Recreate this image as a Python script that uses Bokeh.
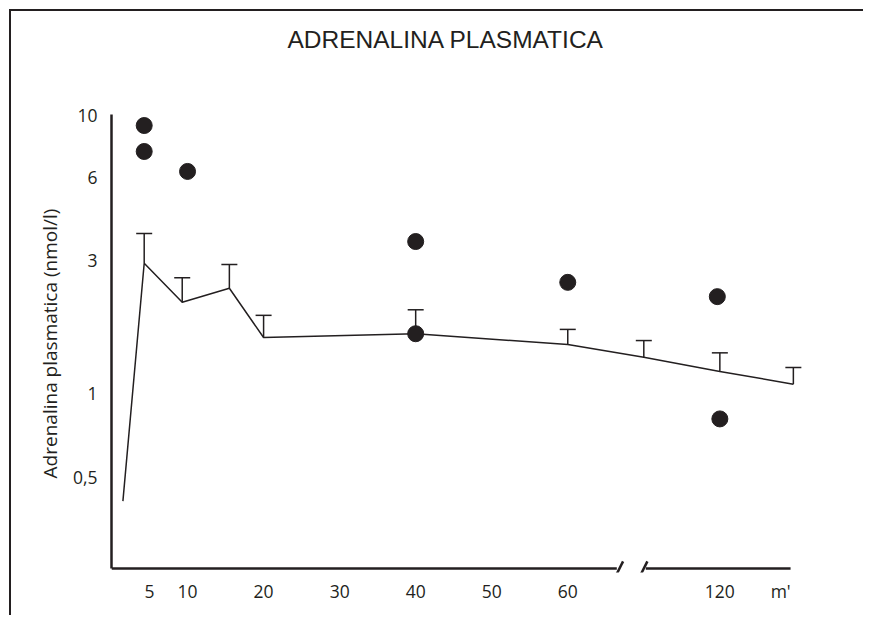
from bokeh.plotting import figure
from bokeh.models import Range1d, FixedTicker, Whisker, ColumnDataSource, TeeHead, Title
from bokeh.embed import file_html
from bokeh.resources import INLINE

# ---------------- data ----------------
title_text = "ADRENALINA PLASMATICA"
y_label = "Adrenalina plasmatica (nmol/l)"

# mean curve (minutes, nmol/l) and upper error bar (mean + SE)
line_minutes = [1.5, 4.3, 9.3, 15.5, 20, 40, 60, 90, 120, 149]
line_values = [0.41, 2.94, 2.13, 2.39, 1.59, 1.64, 1.50, 1.35, 1.20, 1.08]
err_minutes = [4.3, 9.3, 15.5, 20, 40, 60, 90, 120, 149]
err_upper = [3.76, 2.61, 2.91, 1.91, 2.00, 1.70, 1.55, 1.40, 1.24]
err_mean = [2.94, 2.13, 2.39, 1.59, 1.64, 1.50, 1.35, 1.20, 1.08]

# individual values (dots)
dot_minutes = [4.3, 4.3, 10, 40, 40, 60, 119, 120]
dot_values = [9.2, 7.42, 6.29, 3.52, 1.64, 2.51, 2.23, 0.81]

x_tick_minutes = [5, 10, 20, 30, 40, 50, 60, 120]
x_tick_labels = ["5", "10", "20", "30", "40", "50", "60", "120"]
unit_label = "m'"
y_ticks = [0.5, 1, 3, 6, 10]
y_tick_labels = ["0,5", "1", "3", "6", "10"]

# ---------------- layout / style ----------------
INK = "#231f20"
FONT = "Open Sans"
TITLE_FONT = "Liberation Sans"
BREAK_MIN = 60          # scale is compressed 3x after the axis break
UNIT_POS = 88
BREAK_START, BREAK_END = 66.45, 70.26
SLASH_POS = [66.8, 70.0]
AXIS_END = 89.3
Y_FLOOR = 0.2347
Y_TOP = 10.08


def axis_pos(t):
    return t if t <= BREAK_MIN else BREAK_MIN + (t - BREAK_MIN) / 3


p = figure(width=854, height=606, output_backend="svg", toolbar_location=None,
           y_axis_type="log", x_range=Range1d(0, 91), y_range=Range1d(0.227, Y_TOP),
           min_border_left=100, min_border_right=62, min_border_top=103, min_border_bottom=45)
p.outline_line_color = None
p.grid.visible = False
p.styles = {"margin-top": "9px", "margin-left": "9px",
            "border-top": "2px solid " + INK, "border-left": "2px solid " + INK}

# spacer panel next to the frame, then the title above it
p.add_layout(Title(text=" ", text_font=TITLE_FONT, text_font_size="10px", standoff=49), "above")
p.add_layout(Title(text=title_text, align="left", offset=176, standoff=0,
                   text_font=TITLE_FONT, text_font_size="24.5px", text_font_style="normal",
                   text_color=INK), "above")

# x axis: labels only, the line is drawn with a break
p.xaxis.axis_line_color = None
p.xaxis.major_tick_line_color = None
p.xaxis.minor_tick_line_color = None
xt = [int(round(axis_pos(t))) for t in x_tick_minutes]
p.xaxis.ticker = FixedTicker(ticks=xt + [UNIT_POS])
ov = {k: v for k, v in zip(xt, x_tick_labels)}
ov[UNIT_POS] = unit_label
p.xaxis.major_label_overrides = ov
p.xaxis.major_label_standoff = 0
p.xaxis.major_label_text_font = FONT
p.xaxis.major_label_text_font_size = "17.5px"
p.xaxis.major_label_text_color = INK

p.yaxis.ticker = FixedTicker(ticks=y_ticks)
p.yaxis.major_label_overrides = {k: v for k, v in zip(y_ticks, y_tick_labels)}
p.yaxis.major_tick_line_color = None
p.yaxis.minor_tick_line_color = None
p.yaxis.axis_line_width = 2.5
p.yaxis.axis_line_color = INK
p.yaxis.bounds = (Y_FLOOR, Y_TOP)
p.yaxis.major_label_standoff = 8
p.yaxis.major_label_text_font = FONT
p.yaxis.major_label_text_font_size = "17.5px"
p.yaxis.major_label_text_color = INK
p.yaxis.axis_label = y_label
p.yaxis.axis_label_text_font = FONT
p.yaxis.axis_label_text_font_size = "19px"
p.yaxis.axis_label_text_font_style = "normal"
p.yaxis.axis_label_text_color = INK
p.yaxis.axis_label_standoff = 7

# broken x axis line
p.segment(x0=[0, BREAK_END], y0=[Y_FLOOR, Y_FLOOR], x1=[BREAK_START, AXIS_END], y1=[Y_FLOOR, Y_FLOOR],
          line_color=INK, line_width=2.5)
p.scatter(x=SLASH_POS, y=[Y_FLOOR, Y_FLOOR], marker="dash", size=16, angle=1.107,
          line_color=INK, line_width=2.5)

# mean curve
p.line([axis_pos(t) for t in line_minutes], line_values, line_color=INK, line_width=1.5)

src = ColumnDataSource(dict(x=[axis_pos(t) for t in err_minutes], upper=err_upper, lower=err_mean))
p.add_layout(Whisker(source=src, base="x", upper="upper", lower="lower", dimension="height",
                     upper_head=TeeHead(size=16, line_width=1.5, line_color=INK), lower_head=None,
                     line_color=INK, line_width=1.5))

p.scatter([axis_pos(t) for t in dot_minutes], dot_values, size=16, marker="circle",
          fill_color=INK, line_color=INK)

open("out.html", "w").write(file_html(p, INLINE))
